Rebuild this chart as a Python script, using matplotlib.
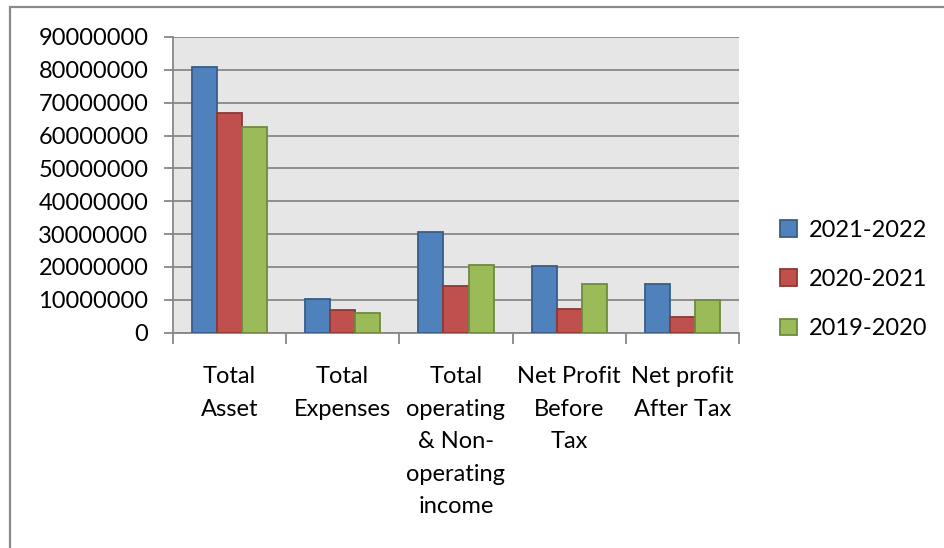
import numpy as np
import matplotlib.pyplot as plt
from matplotlib.patches import Rectangle

categories = ["Total\nAsset", "Total\nExpenses", "Total\noperating\n& Non-\noperating\nincome",
              "Net Profit\nBefore\nTax", "Net profit\nAfter Tax"]
years = ["2021-2022", "2020-2021", "2019-2020"]
fy_2021_22 = [81000000, 10200000, 30600000, 20400000, 14700000]
fy_2020_21 = [67000000, 7000000, 14100000, 7200000, 4900000]
fy_2019_20 = [62600000, 6000000, 20700000, 14800000, 10000000]

faces = ["#4F81BD", "#C0504D", "#9BBB59"]
edges = ["#385D8A", "#8C3836", "#71893F"]
grid_c = "#878787"
fs = 17

plt.rcParams['font.family'] = ['Lato', 'DejaVu Sans']

fig = plt.figure(figsize=(9.44, 5.48), dpi=100)
# chart frame (only top/left edges fall inside the image)
fig.patches.append(Rectangle((0.0103, -0.1), 1.2, 1.0873, transform=fig.transFigure,
                             fill=False, edgecolor="#8A8A8A", linewidth=1.6))

ax = fig.add_axes([0.183, 0.393, 0.6, 0.5395])
ax.set_facecolor("#E6E6E6")

x = np.arange(len(categories))
w = 0.222
for i, vals in enumerate([fy_2021_22, fy_2020_21, fy_2019_20]):
    ax.bar(x + (i - 1) * w, vals, width=w, color=faces[i], edgecolor=edges[i],
           linewidth=1.3, label=years[i], zorder=3)

ax.set_xlim(-0.5, len(categories) - 0.5)
ax.set_ylim(0, 90000000)
ax.set_yticks(np.arange(0, 90000001, 10000000))
ax.set_yticklabels([str(v) for v in range(0, 90000001, 10000000)], fontsize=fs)
ax.yaxis.grid(True, color=grid_c, linewidth=1.3, zorder=1)
ax.set_axisbelow(True)

ax.set_xticks(x)
ax.set_xticklabels(categories, fontsize=fs, linespacing=1.68, va="top")
ax.tick_params(axis="x", length=0, pad=24)
ax.set_xticks(np.arange(-0.5, len(categories)), minor=True)
ax.tick_params(axis="x", which="minor", length=8, width=1.3, color=grid_c)
ax.tick_params(axis="y", length=6.5, width=1.3, color=grid_c, pad=11)

for s in ["top", "right"]:
    ax.spines[s].set_visible(False)
for s in ["left", "bottom"]:
    ax.spines[s].set_color(grid_c)
    ax.spines[s].set_linewidth(1.3)

ax.legend(loc="center left", bbox_to_anchor=(1.072, 0.18), frameon=False, fontsize=fs,
          handlelength=0.72, handleheight=0.72, handletextpad=0.5, labelspacing=1.2,
          borderaxespad=0, borderpad=0)

fig.savefig("out.png", dpi=100)
